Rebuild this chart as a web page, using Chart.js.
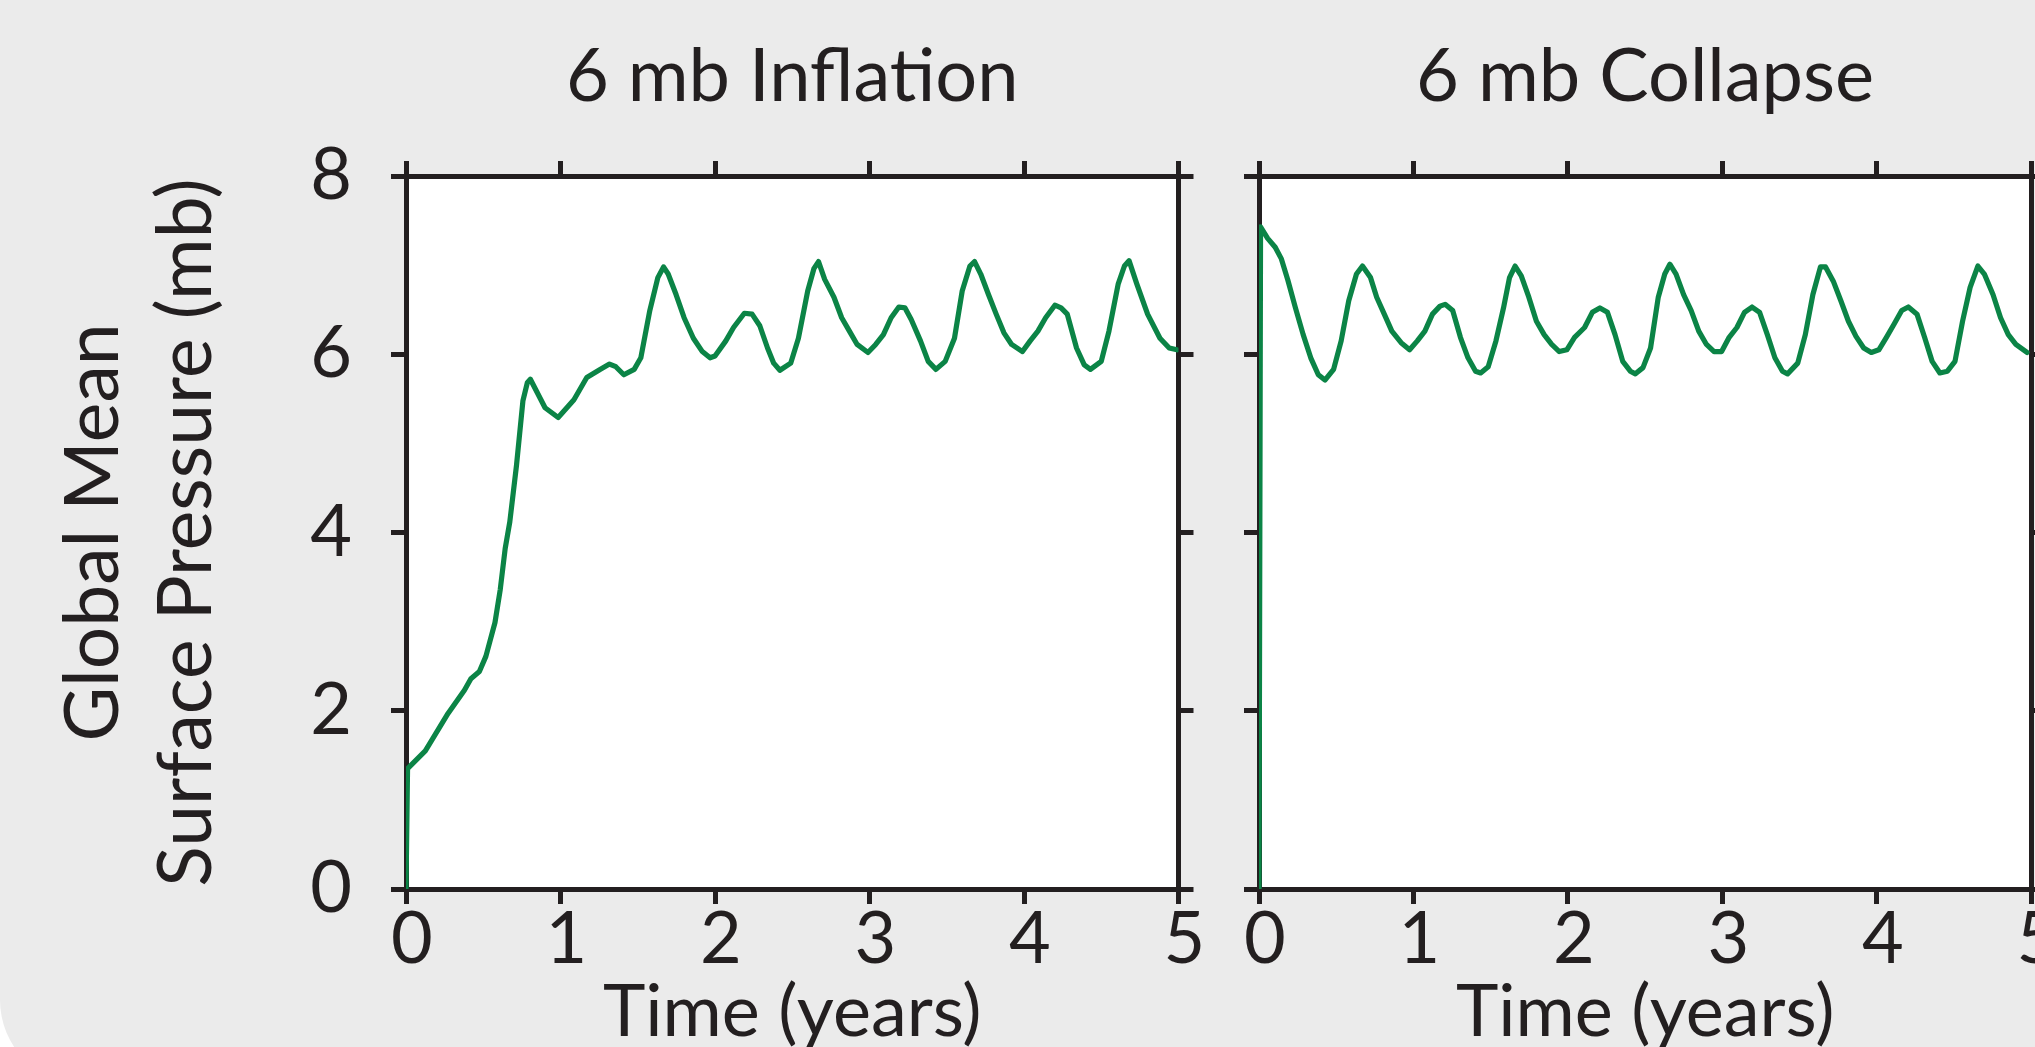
<!DOCTYPE html>
<html>
<head>
<meta charset="utf-8">
<title>Global Mean Surface Pressure</title>
<script src="https://cdn.jsdelivr.net/npm/chart.js@4.4.0/dist/chart.umd.min.js"></script>
<style>
  html, body { margin: 0; padding: 0; overflow: hidden; background: #ffffff; width: 2035px; height: 1047px; }
  #sheet { position: absolute; left: 0; top: 0; width: 2035px; height: 1085px; background: #ebebeb; border-bottom-left-radius: 85px; }
  canvas { position: absolute; top: 0; }
  #inflation { left: 0; }
  #collapse { left: 1215px; }
</style>
</head>
<body>
<div id="sheet"></div>
<canvas id="inflation" width="1215" height="1047"></canvas>
<canvas id="collapse" width="820" height="1047"></canvas>
<script>
// time (years) and global mean surface pressure (mb), 6 mb inflation run
const inflationYears = [0, 0.01, 0.125, 0.272, 0.378, 0.42, 0.475, 0.517, 0.576, 0.61, 0.642, 0.672,
  0.715, 0.757, 0.785, 0.805, 0.9, 0.985, 1.087, 1.17, 1.256, 1.317, 1.358, 1.41, 1.477, 1.52,
  1.578, 1.63, 1.667, 1.697, 1.748, 1.8, 1.86, 1.918, 1.968, 2.0, 2.07, 2.12, 2.19, 2.24, 2.29,
  2.34, 2.38, 2.42, 2.49, 2.54, 2.6, 2.64, 2.67, 2.71, 2.77, 2.82, 2.87, 2.92, 2.99, 3.04, 3.09,
  3.14, 3.19, 3.23, 3.27, 3.33, 3.38, 3.43, 3.49, 3.55, 3.6, 3.65, 3.68, 3.72, 3.77, 3.82, 3.87,
  3.92, 3.99, 4.04, 4.09, 4.14, 4.2, 4.24, 4.28, 4.34, 4.39, 4.43, 4.5, 4.55, 4.61, 4.65, 4.68,
  4.73, 4.8, 4.88, 4.94, 4.99];
const inflationPressure = [0, 1.35, 1.55, 1.97, 2.23, 2.36, 2.44, 2.61, 2.99, 3.36, 3.82, 4.12,
  4.75, 5.48, 5.68, 5.72, 5.4, 5.29, 5.49, 5.74, 5.83, 5.89, 5.86, 5.77, 5.83, 5.96,
  6.49, 6.86, 6.98, 6.9, 6.67, 6.41, 6.18, 6.03, 5.96, 5.98, 6.15, 6.3, 6.46, 6.45, 6.32,
  6.07, 5.9, 5.82, 5.9, 6.18, 6.71, 6.96, 7.04, 6.84, 6.64, 6.41, 6.26, 6.11, 6.02, 6.11, 6.22,
  6.41, 6.53, 6.52, 6.39, 6.15, 5.92, 5.83, 5.92, 6.18, 6.71, 6.99, 7.04, 6.9, 6.67, 6.45, 6.24,
  6.11, 6.03, 6.15, 6.26, 6.41, 6.55, 6.52, 6.45, 6.07, 5.88, 5.83, 5.92, 6.26, 6.79, 6.99, 7.05,
  6.79, 6.45, 6.18, 6.07, 6.05];

// time (years) and global mean surface pressure (mb), 6 mb collapse run
const collapseYears = [0, 0.01, 0.056, 0.105, 0.145, 0.187, 0.236, 0.286, 0.335, 0.384, 0.427, 0.483,
  0.532, 0.581, 0.631, 0.67, 0.722, 0.762, 0.811, 0.86, 0.92, 0.975, 1.025, 1.074, 1.123, 1.172,
  1.205, 1.254, 1.304, 1.353, 1.402, 1.435, 1.484, 1.534, 1.583, 1.622, 1.658, 1.698, 1.747, 1.796,
  1.846, 1.895, 1.944, 1.993, 2.043, 2.108, 2.158, 2.207, 2.256, 2.305, 2.355, 2.404, 2.437, 2.486,
  2.535, 2.585, 2.627, 2.66, 2.7, 2.749, 2.798, 2.847, 2.897, 2.946, 2.995, 3.044, 3.094, 3.143,
  3.192, 3.241, 3.291, 3.34, 3.389, 3.422, 3.488, 3.537, 3.586, 3.635, 3.668, 3.718, 3.767, 3.816,
  3.865, 3.915, 3.964, 4.013, 4.062, 4.112, 4.161, 4.204, 4.26, 4.309, 4.358, 4.408, 4.457, 4.506,
  4.555, 4.604, 4.654, 4.696, 4.752, 4.801, 4.851, 4.9, 4.972];
const collapsePressure = [0, 7.43, 7.3, 7.2, 7.07, 6.83, 6.52, 6.22, 5.96, 5.77, 5.71, 5.83,
  6.15, 6.6, 6.9, 6.99, 6.86, 6.64, 6.45, 6.26, 6.13, 6.05, 6.15, 6.26, 6.45, 6.54,
  6.56, 6.49, 6.19, 5.96, 5.81, 5.79, 5.86, 6.15, 6.52, 6.86, 6.99, 6.88, 6.64, 6.37,
  6.22, 6.11, 6.03, 6.05, 6.19, 6.3, 6.47, 6.52, 6.47, 6.22, 5.92, 5.81, 5.78, 5.85,
  6.07, 6.64, 6.9, 7.01, 6.9, 6.67, 6.49, 6.26, 6.11, 6.03, 6.03, 6.19, 6.3, 6.47,
  6.53, 6.47, 6.22, 5.96, 5.81, 5.78, 5.9, 6.22, 6.67, 6.98, 6.98, 6.82, 6.6, 6.37,
  6.2, 6.07, 6.02, 6.05, 6.19, 6.34, 6.49, 6.53, 6.45, 6.19, 5.92, 5.79, 5.81, 5.92,
  6.37, 6.75, 6.99, 6.9, 6.67, 6.41, 6.22, 6.11, 6.02];

const yearTicks = [0, 1, 2, 3, 4, 5];
const pressureTicks = [0, 2, 4, 6, 8];

const ink = '#231f20';
const lineGreen = '#0b8446';

Chart.defaults.font.family = 'Lato, "Open Sans", sans-serif';
Chart.defaults.color = ink;

// white plot box behind the trace
const plotBackground = {
  id: 'plotBackground',
  beforeDraw(chart) {
    const { ctx, chartArea: a } = chart;
    ctx.save();
    ctx.fillStyle = '#ffffff';
    ctx.fillRect(a.left, a.top, a.right - a.left, a.bottom - a.top);
    ctx.restore();
  }
};

// pin an axis band to a fixed thickness so both panels line up
function pin(size) {
  return function (scale) {
    if (scale.isHorizontal()) scale.height = size; else scale.width = size;
    scale.paddingLeft = scale.paddingRight = scale.paddingTop = scale.paddingBottom = 0;
  };
}

function useTicks(values) {
  return function (scale) { scale.ticks = values.map(v => ({ value: v })); };
}

function makePanel(id, title, years, pressure, band) {
  const border = { display: true, width: 5, color: ink };
  const marks = { drawOnChartArea: false, drawTicks: true, tickLength: 15, lineWidth: 5, color: ink };
  const points = years.map((t, i) => ({ x: t, y: pressure[i] }));

  return new Chart(document.getElementById(id), {
    type: 'line',
    data: {
      datasets: [{
        data: points,
        borderColor: lineGreen,
        borderWidth: 5.2,
        borderJoinStyle: 'round',
        borderCapStyle: 'round',
        pointRadius: 0,
        tension: 0,
        fill: false
      }]
    },
    options: {
      responsive: false,
      animation: false,
      events: [],
      layout: { padding: 0 },
      plugins: { legend: { display: false }, tooltip: { enabled: false } },
      scales: {
        x: {
          type: 'linear', position: 'bottom', min: 0, max: 5,
          afterBuildTicks: useTicks(yearTicks),
          afterFit: pin(band.bottom),
          grid: marks, border: border,
          ticks: { font: { size: 72, lineHeight: 1 }, padding: 0, labelOffset: 6, maxRotation: 0, autoSkip: false },
          title: { display: true, text: 'Time (years)', font: { size: 72, lineHeight: 0.8 }, padding: { top: 0, bottom: 5 } }
        },
        top: {
          type: 'linear', position: 'top', min: 0, max: 5,
          afterBuildTicks: useTicks(yearTicks),
          afterFit: pin(band.top),
          grid: marks, border: border,
          ticks: { display: false },
          title: { display: true, text: title, font: { size: 74, lineHeight: 1 }, padding: { top: 40, bottom: 0 } }
        },
        y: {
          type: 'linear', position: 'left', min: 0, max: 8,
          afterBuildTicks: useTicks(pressureTicks),
          afterFit: pin(band.left),
          grid: marks, border: border,
          ticks: { display: band.labels, font: { size: 72, lineHeight: 1 }, padding: 39 },
          title: {
            display: band.labels,
            text: ['Global Mean', 'Surface Pressure (mb)'],
            font: { size: 75, lineHeight: 1.24 },
            padding: { top: 47, bottom: 0 }
          }
        },
        right: {
          type: 'linear', position: 'right', min: 0, max: 8,
          afterBuildTicks: useTicks(pressureTicks),
          afterFit: pin(band.right),
          grid: marks, border: border,
          ticks: { display: false }
        }
      }
    },
    plugins: [plotBackground]
  });
}

makePanel('inflation', '6 mb Inflation', inflationYears, inflationPressure,
  { top: 176, bottom: 158, left: 406, right: 36.5, labels: true });
makePanel('collapse', '6 mb Collapse', collapseYears, collapsePressure,
  { top: 176, bottom: 158, left: 44, right: 3.7, labels: false });
</script>
</body>
</html>
